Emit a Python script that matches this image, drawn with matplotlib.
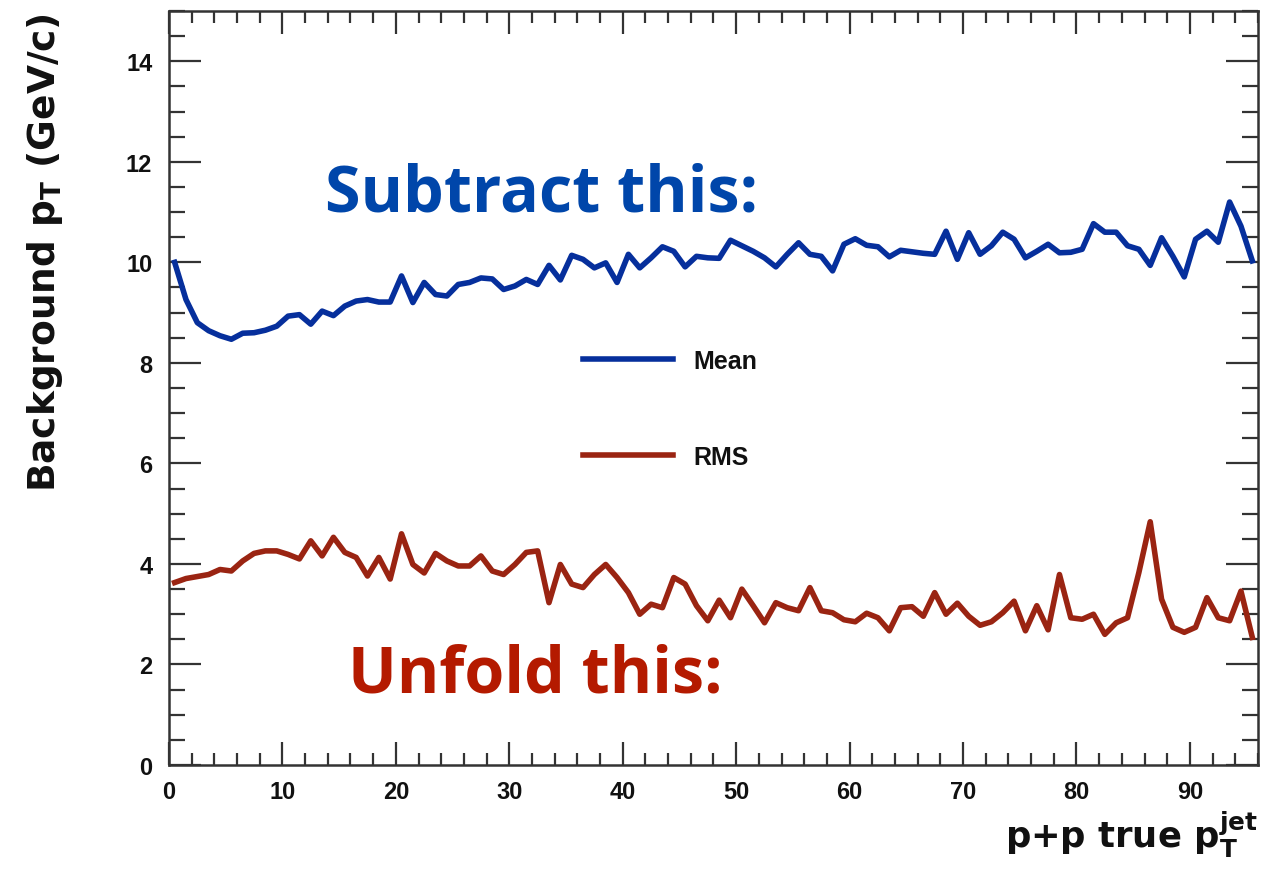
# background pT vs p+p true jet pT: mean and RMS per 1 GeV bin

import numpy as np
import matplotlib
matplotlib.use("Agg")
import matplotlib.pyplot as plt
import matplotlib.ticker as mtick

# bin centres, 1 GeV/c bins from 0 to 96
pt_jet = np.arange(0.5, 96.0, 1.0)

bg_mean = [
    10.00, 9.26, 8.80, 8.64, 8.54, 8.47, 8.59, 8.60, 8.65, 8.73,
    8.93, 8.96, 8.77, 9.03, 8.94, 9.13, 9.23, 9.26, 9.21, 9.21,
    9.73, 9.20, 9.60, 9.36, 9.33, 9.56, 9.60, 9.69, 9.67, 9.46,
    9.53, 9.66, 9.56, 9.94, 9.65, 10.14, 10.06, 9.89, 9.99, 9.60,
    10.16, 9.89, 10.09, 10.31, 10.22, 9.91, 10.12, 10.09, 10.08, 10.44,
    10.33, 10.22, 10.09, 9.91, 10.16, 10.39, 10.16, 10.12, 9.83, 10.36,
    10.47, 10.34, 10.31, 10.11, 10.24, 10.21, 10.18, 10.16, 10.62, 10.06,
    10.59, 10.16, 10.33, 10.60, 10.46, 10.09, 10.22, 10.36, 10.19, 10.20,
    10.26, 10.77, 10.60, 10.60, 10.33, 10.26, 9.94, 10.49, 10.12, 9.71,
    10.46, 10.62, 10.40, 11.20, 10.72, 10.03,
]

bg_rms = [
    3.63, 3.71, 3.75, 3.79, 3.89, 3.86, 4.06, 4.21, 4.26, 4.26,
    4.19, 4.10, 4.46, 4.16, 4.53, 4.23, 4.13, 3.76, 4.13, 3.70,
    4.60, 3.99, 3.82, 4.21, 4.06, 3.96, 3.96, 4.16, 3.86, 3.79,
    3.99, 4.23, 4.26, 3.23, 3.99, 3.60, 3.53, 3.79, 3.99, 3.73,
    3.43, 3.00, 3.20, 3.13, 3.73, 3.60, 3.17, 2.87, 3.28, 2.93,
    3.50, 3.17, 2.83, 3.23, 3.13, 3.07, 3.53, 3.07, 3.03, 2.89,
    2.85, 3.02, 2.93, 2.67, 3.13, 3.15, 2.96, 3.43, 3.00, 3.22,
    2.96, 2.78, 2.85, 3.03, 3.26, 2.67, 3.17, 2.69, 3.79, 2.93,
    2.90, 3.00, 2.60, 2.83, 2.93, 3.83, 4.84, 3.30, 2.74, 2.64,
    2.74, 3.33, 2.93, 2.87, 3.46, 2.54,
]

series_labels = ["Mean", "RMS"]

c_mean   = "#062f9c"
c_rms    = "#9a2412"
c_sub    = "#0046aa"
c_unfold = "#b41a00"
frame_c  = "#333333"

plt.rcParams.update({
    "font.family":        "Liberation Sans",
    "font.weight":        "bold",
    "mathtext.fontset":   "custom",
    "mathtext.rm":        "DejaVu Sans:bold",
    "mathtext.it":        "DejaVu Sans:bold",
    "mathtext.bf":        "DejaVu Sans:bold",
    "mathtext.default":   "bf",
    "axes.edgecolor":     frame_c,
    "axes.linewidth":     1.8,
    "xtick.direction":    "in",
    "ytick.direction":    "in",
    "xtick.color":        frame_c,
    "ytick.color":        frame_c,
    "xtick.labelcolor":   "#111111",
    "ytick.labelcolor":   "#111111",
})

fig = plt.figure(figsize=(12.83, 8.70), dpi=100)
ax = fig.add_axes([0.1317, 0.1195, 0.8488, 0.8667])

ax.plot(pt_jet, bg_mean, color=c_mean, lw=4.0, label=series_labels[0])
ax.plot(pt_jet, bg_rms, color=c_rms, lw=4.0, label=series_labels[1])

ax.set_xlim(0, 96)
ax.set_ylim(0, 15)
ax.xaxis.set_major_locator(mtick.MultipleLocator(10))
ax.xaxis.set_minor_locator(mtick.MultipleLocator(2))
ax.yaxis.set_major_locator(mtick.MultipleLocator(2))
ax.yaxis.set_minor_locator(mtick.MultipleLocator(0.5))
ax.tick_params(axis="both", which="both", top=True, right=True, width=1.6)
ax.tick_params(axis="x", which="major", length=16.5, pad=11, labelsize=17)
ax.tick_params(axis="x", which="minor", length=8.3)
ax.tick_params(axis="y", which="major", length=23, pad=12, labelsize=17)
ax.tick_params(axis="y", which="minor", length=11.5)

# axis titles, ROOT style: right/top aligned
fig.text(0.035, 0.985, "Background p$_{T}$ (GeV/c)", rotation=90,
         ha="center", va="top", fontsize=27, color="#111111",
         family="DejaVu Sans")
fig.text(0.980, 0.012, "p+p true p$_{T}^{jet}$", ha="right", va="bottom",
         fontsize=25.5, color="#111111", family="DejaVu Sans")

leg = ax.legend(loc="center left", bbox_to_anchor=(0.4544, 0.529),
                bbox_transform=fig.transFigure, frameon=False, fontsize=18,
                handlelength=3.6, handletextpad=0.8, labelspacing=2.9,
                borderpad=0, borderaxespad=0)
for t in leg.get_texts():
    t.set_color("#111111")

ax.text(0.143, 0.735, "Subtract this:", transform=ax.transAxes,
        ha="left", va="baseline", fontsize=46.5, color=c_sub,
        family="Open Sans", fontweight="bold")
ax.text(0.164, 0.098, "Unfold this:", transform=ax.transAxes,
        ha="left", va="baseline", fontsize=46.5, color=c_unfold,
        family="Open Sans", fontweight="bold")

fig.savefig("out.png", dpi=100)
